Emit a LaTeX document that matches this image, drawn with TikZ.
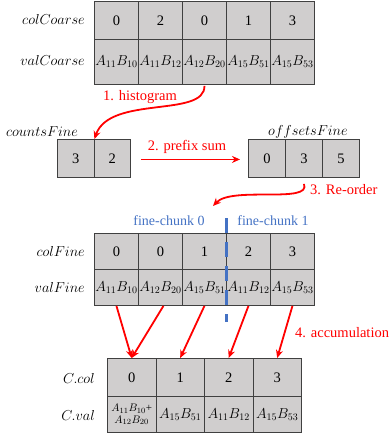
\documentclass[tikz,border=0pt]{standalone}
\usepackage{fontspec}
\setmainfont{Liberation Serif}
\newfontfamily\stepfont{Liberation Serif}
\usetikzlibrary{arrows.meta}
\definecolor{cellgray}{HTML}{D0CECE}
\definecolor{cellline}{HTML}{404040}
\definecolor{flowred}{HTML}{FF0000}
\definecolor{chunkblue}{HTML}{4472C4}
\tikzset{
  cell/.style={draw=cellline, line width=0.9pt, fill=cellgray, inner sep=0pt,
    anchor=north west, font=\stepfont\fontsize{14.5}{16}\selectfont},
  prod/.style={cell, font=\fontsize{14.5}{16}\selectfont},
  rowlabel/.style={anchor=east, inner sep=0pt, font=\fontsize{14.5}{16}\selectfont},
  steplabel/.style={text=flowred, inner sep=0pt, font=\stepfont\fontsize{14.5}{16}\selectfont},
  chunklabel/.style={text=chunkblue, inner sep=0pt, font=\stepfont\fontsize{14}{15}\selectfont},
  flow/.style={draw=flowred, line width=1.8pt, -{Stealth[length=8pt,width=7pt]}},
}
\begin{document}
\begin{tikzpicture}[x=1pt, y=-1pt]
\useasboundingbox (0,0) rectangle (391,436);

% coarse arrays
\foreach \v [count=\i] in {0,2,0,1,3}
  \node[cell, minimum width=44pt, minimum height=38pt] (cc\i) at ({94+44*(\i-1)},1) {\v};
\foreach \v [count=\i] in {{$A_{11}B_{10}$},{$A_{11}B_{12}$},{$A_{12}B_{20}$},{$A_{15}B_{51}$},{$A_{15}B_{53}$}}
  \node[prod, minimum width=44pt, minimum height=45pt] (vc\i) at ({94+44*(\i-1)},39) {\v};
\node[rowlabel] (lcc) at (85,20) {$colCoarse$};
\node[rowlabel] (lvc) at (85,61) {$valCoarse$};

% per-chunk counts and offsets
\foreach \v [count=\i] in {3,2}
  \node[cell, minimum width=36.5pt, minimum height=38pt] (cf\i) at ({57+36.5*(\i-1)},139) {\v};
\node[anchor=center, inner sep=0pt, font=\fontsize{14.5}{16}\selectfont] (lcf) at (42,132) {$countsFine$};
\foreach \v [count=\i] in {0,3,5}
  \node[cell, minimum width=37pt, minimum height=38pt] (of\i) at ({248+37*(\i-1)},139) {\v};
\node[anchor=center, inner sep=0pt, font=\fontsize{14.5}{16}\selectfont] (lof) at (308,132) {$offsetsFine$};

% fine arrays
\foreach \v [count=\i] in {0,0,1,2,3}
  \node[cell, minimum width=44pt, minimum height=36pt] (co\i) at ({94+44*(\i-1)},233) {\v};
\foreach \v [count=\i] in {{$A_{11}B_{10}$},{$A_{12}B_{20}$},{$A_{15}B_{51}$},{$A_{11}B_{12}$},{$A_{15}B_{53}$}}
  \node[prod, minimum width=44pt, minimum height=36pt] (vf\i) at ({94+44*(\i-1)},269) {\v};
\node[rowlabel] (lco) at (85,251) {$colFine$};
\node[rowlabel] (lvf) at (85,287) {$valFine$};

% chunk separator
\coordinate (sepTop) at (226,218);
\coordinate (sepBot) at (226,322);
\draw[chunkblue, line width=3pt, dash pattern=on 15pt off 9pt] (sepTop) -- (sepBot);
\node[chunklabel] (ch0) at (169,221) {fine-chunk 0};
\node[chunklabel] (ch1) at (273,221) {fine-chunk 1};

% result arrays
\foreach \v [count=\i] in {0,1,2,3}
  \node[cell, minimum width=48.5pt, minimum height=38pt] (ccol\i) at ({107+48.5*(\i-1)},358) {\v};
\node[cell, minimum width=48.5pt, minimum height=36pt, align=center,
  font=\fontsize{11}{11.5}\selectfont] (cval1) at (107,396) {$A_{11}B_{10}$+\\$A_{12}B_{20}$};
\foreach \v [count=\i from 2] in {{$A_{15}B_{51}$},{$A_{11}B_{12}$},{$A_{15}B_{53}$}}
  \node[prod, minimum width=48.5pt, minimum height=36pt] (cval\i) at ({107+48.5*(\i-1)},396) {\v};
\node[rowlabel] (lccol) at (95,378) {$C.col$};
\node[rowlabel] (lcval) at (95,415) {$C.val$};

% step 1: histogram
\draw[flow] ([yshift=-1pt]vc3.south) .. controls (205,118) and (110,95) .. (cf1.north east);
\node[steplabel] (s1) at (140,97) {1. histogram};

% step 2: prefix sum
\draw[flow] ([xshift=10pt,yshift=-1pt]cf2.east) -- ([xshift=-8pt,yshift=-1pt]of1.west);
\node[steplabel] (s2) at (187,147) {2. prefix sum};

% step 3: re-order
\coordinate (reEnd) at (213,206);
\draw[flow] ([yshift=-6pt]of2.south) .. controls (312,204) and (232,186) .. (reEnd);
\node[steplabel, anchor=west] (s3) at (310,190) {3. Re-order};

% step 4: accumulation
\draw[flow] (vf1.south) -- (ccol1.north);
\draw[flow] ([xshift=3pt]vf2.south) -- (ccol1.north);
\draw[flow] (vf3.south) -- (ccol2.north);
\draw[flow] (vf4.south) -- (ccol3.north);
\draw[flow] (vf5.south) -- (ccol4.north);
\node[steplabel, anchor=west] (s4) at (295,333) {4. accumulation};
\end{tikzpicture}
\end{document}
